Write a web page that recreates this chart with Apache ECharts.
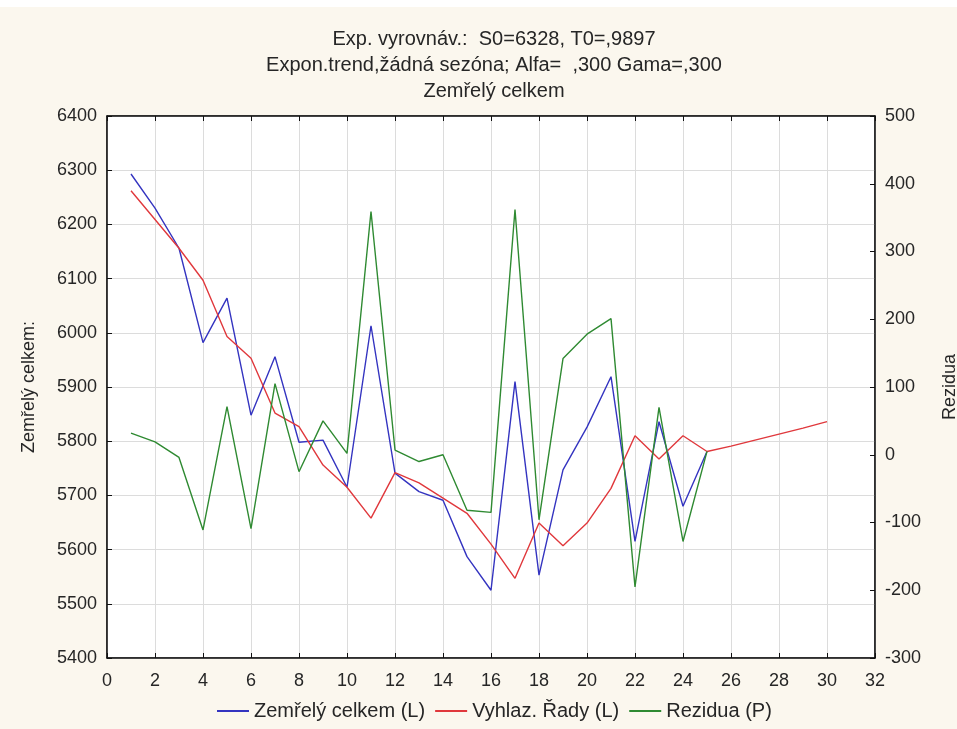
<!DOCTYPE html>
<html>
<head>
<meta charset="utf-8">
<title>Zemřelý celkem</title>
<script src="https://cdn.jsdelivr.net/npm/echarts@6/dist/echarts.min.js"></script>
<style>
  html, body { margin: 0; padding: 0; background: #fbf7ee; }
  #chart { width: 957px; height: 729px; }
</style>
</head>
<body>
<div id="chart"></div>
<script>
// Observation index (1..25) and forecast horizon (up to 30)
const obsX = [1, 2, 3, 4, 5, 6, 7, 8, 9, 10, 11, 12, 13, 14, 15, 16, 17, 18, 19, 20, 21, 22, 23, 24, 25];
const smoothX = [1, 2, 3, 4, 5, 6, 7, 8, 9, 10, 11, 12, 13, 14, 15, 16, 17, 18, 19, 20, 21, 22, 23, 24, 25, 26, 27, 28, 29, 30];

// Zemřelý celkem (left axis)
const deaths = [6293, 6230, 6156, 5982, 6064, 5848, 5956, 5798, 5802, 5715, 6013, 5741, 5707, 5691, 5587, 5525, 5910, 5553, 5747, 5826, 5919, 5615, 5836, 5680, 5781];
// Vyhlazená řada (left axis)
const smoothed = [6262, 6209, 6156, 6097, 5993, 5953, 5852, 5827, 5756, 5715, 5658, 5742, 5723, 5695, 5667, 5610, 5547, 5649, 5607, 5649, 5713, 5810, 5767, 5810, 5781, 5791, 5802, 5813, 5824, 5836];
// Rezidua (right axis)
const residuals = [32, 19, -4, -111, 71, -109, 105, -25, 50, 2, 359, 7, -10, 0, -82, -85, 362, -96, 142, 178, 201, -195, 70, -128, 5];

const titleLines = [
  'Exp. vyrovnáv.:  S0=6328, T0=,9897',
  'Expon.trend,žádná sezóna; Alfa=  ,300 Gama=,300',
  'Zemřelý celkem'
];
const seriesNames = ['Zemřelý celkem (L)', 'Vyhlaz. Řady (L)', 'Rezidua (P)'];

const zip = (xs, ys) => ys.map((v, i) => [xs[i], v]);
const plain = v => String(v);

const FONT = '"Liberation Sans", Arial, sans-serif';
const TEXT = '#262626';
const GRID = '#dcdcdc';

const chart = echarts.init(document.getElementById('chart'), null, { renderer: 'canvas' });

const frameAxis = {
  axisLine: { show: true, onZero: false, lineStyle: { color: '#111', width: 1.5 } },
  axisTick: { show: true, inside: true, length: 5, lineStyle: { color: '#111' } }
};

chart.setOption({
  backgroundColor: '#fbf7ee',
  animation: false,
  textStyle: { fontFamily: FONT, color: TEXT },
  title: {
    text: titleLines.join('\n'),
    left: 489,
    textAlign: 'center',
    top: 21,
    textStyle: { fontFamily: FONT, fontSize: 20, fontWeight: 'normal', color: TEXT, lineHeight: 26 }
  },
  graphic: [
    { type: 'rect', left: 0, top: 0, shape: { width: 957, height: 7 }, style: { fill: '#ffffff' }, silent: true }
  ],
  legend: {
    bottom: 3,
    left: 212,
    itemWidth: 32,
    itemHeight: 2,
    itemGap: 10,
    icon: 'rect',
    textStyle: { fontFamily: FONT, fontSize: 20, color: TEXT },
    data: seriesNames
  },
  grid: {
    left: 107, right: 82, top: 116, bottom: 71,
    outerBoundsMode: 'none', containLabel: false,
    show: true, backgroundColor: '#ffffff', borderColor: '#111', borderWidth: 1
  },
  xAxis: [
    Object.assign({
      type: 'value', min: 0, max: 32, interval: 2, position: 'bottom',
      axisLabel: { fontFamily: FONT, fontSize: 18, color: TEXT, margin: 14, formatter: plain },
      splitLine: { show: true, lineStyle: { color: GRID, width: 1 } }
    }, frameAxis),
    Object.assign({
      type: 'value', min: 0, max: 32, interval: 2, position: 'top',
      axisLabel: { show: false },
      splitLine: { show: false }
    }, frameAxis)
  ],
  yAxis: [
    Object.assign({
      type: 'value', min: 5400, max: 6400, interval: 100, position: 'left',
      name: 'Zemřelý celkem:', nameLocation: 'middle', nameGap: 69, nameRotate: 90,
      nameTextStyle: { fontFamily: FONT, fontSize: 18, color: TEXT },
      axisLabel: { fontFamily: FONT, fontSize: 18, color: TEXT, margin: 10, formatter: plain },
      splitLine: { show: true, lineStyle: { color: GRID, width: 1 } }
    }, frameAxis),
    Object.assign({
      type: 'value', min: -300, max: 500, interval: 100, position: 'right',
      name: 'Rezidua', nameLocation: 'middle', nameGap: 66, nameRotate: 90,
      nameTextStyle: { fontFamily: FONT, fontSize: 18, color: TEXT },
      axisLabel: { fontFamily: FONT, fontSize: 18, color: TEXT, margin: 10, formatter: plain },
      splitLine: { show: false }
    }, frameAxis)
  ],
  series: [
    {
      name: seriesNames[0], type: 'line', xAxisIndex: 0, yAxisIndex: 0,
      data: zip(obsX, deaths), symbol: 'none',
      lineStyle: { color: '#3434c0', width: 1.4 }, itemStyle: { color: '#3434c0' }
    },
    {
      name: seriesNames[1], type: 'line', xAxisIndex: 0, yAxisIndex: 0,
      data: zip(smoothX, smoothed), symbol: 'none',
      lineStyle: { color: '#e0383c', width: 1.4 }, itemStyle: { color: '#e0383c' }
    },
    {
      name: seriesNames[2], type: 'line', xAxisIndex: 0, yAxisIndex: 1,
      data: zip(obsX, residuals), symbol: 'none',
      lineStyle: { color: '#2f8a32', width: 1.4 }, itemStyle: { color: '#2f8a32' }
    }
  ]
});
</script>
</body>
</html>
